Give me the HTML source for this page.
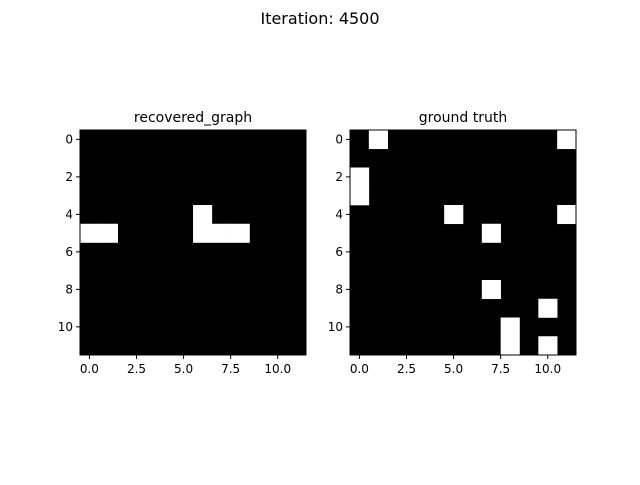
<!DOCTYPE html>
<html><head><meta charset="utf-8"><style>
body{margin:0;background:#fff;font-family:"Liberation Sans","DejaVu Sans",sans-serif;}
</style></head><body>
<svg width="640" height="480" xmlns="http://www.w3.org/2000/svg" font-family="DejaVu Sans, Liberation Sans, sans-serif">
<rect width="640" height="480" fill="#fff"/>
<text x="320" y="24" text-anchor="middle" font-size="16">Iteration: 4500</text>
<g id="root"></g>
</svg>
<script>
const gridSize = 12;
const leftCells = [[4,6],[5,0],[5,1],[5,6],[5,7],[5,8]];
const rightCells = [[0,1],[0,11],[2,0],[3,0],[4,5],[4,11],[5,7],[8,7],[9,10],[10,8],[11,8],[11,10]];
const xTicks = [0,2.5,5,7.5,10];
const xTickLabels = ["0.0","2.5","5.0","7.5","10.0"];
const yTicks = [0,2,4,6,8,10];
const panelTitles = ["recovered_graph","ground truth"];
const NS="http://www.w3.org/2000/svg";
const root=document.getElementById('root');
function mk(t,a){const e=document.createElementNS(NS,t);for(const k in a)e.setAttribute(k,a[k]);return e;}
function panel(x0,cells,title,nm){
  const y0=130,W=226,H=225;
  const sx=v=>x0+(v+0.5)/gridSize*W, sy=v=>y0+(v+0.5)/gridSize*H;
  const g=mk('g',{});root.appendChild(g);
  const bg=mk('rect',{x:x0,y:y0,width:W,height:H,fill:'#000'});
  g.appendChild(bg);
  const cw=W/gridSize,ch=H/gridSize;
  cells.forEach(([r,c])=>{const e=mk('rect',{x:sx(c)-cw/2,y:sy(r)-ch/2,width:cw+0.3,height:ch+0.3,fill:'#fff'});
    g.appendChild(e);});
  const fr=mk('rect',{x:x0,y:y0,width:W,height:H,fill:'none',stroke:'#000','stroke-width':1});g.appendChild(fr);
  xTicks.forEach((v,i)=>{const x=sx(v);g.appendChild(mk('line',{x1:x,x2:x,y1:y0+H,y2:y0+H+4,stroke:'#000'}));
    const t=mk('text',{x:x,y:y0+H+18,'text-anchor':'middle','font-size':12});t.textContent=xTickLabels[i];
    g.appendChild(t);});
  yTicks.forEach(v=>{const y=sy(v);g.appendChild(mk('line',{x1:x0-4,x2:x0,y1:y,y2:y,stroke:'#000'}));
    const t=mk('text',{x:x0-7,y:y+4,'text-anchor':'end','font-size':12});t.textContent=String(v);
    g.appendChild(t);});
  const tt=mk('text',{x:x0+W/2,y:y0-8,'text-anchor':'middle','font-size':14});tt.textContent=title;
  g.appendChild(tt);
}
panel(80,leftCells,panelTitles[0],'recovered-graph-panel');
panel(350,rightCells,panelTitles[1],'ground-truth-panel');
</script>
</body></html>
